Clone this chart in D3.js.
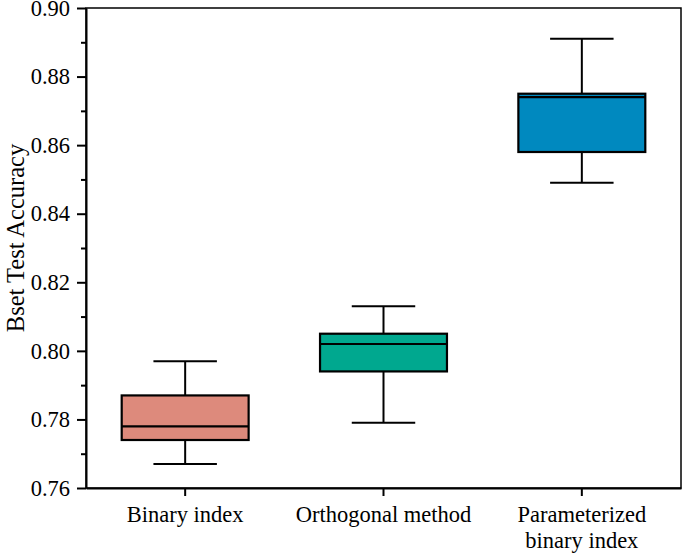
<!DOCTYPE html>
<html>
<head>
<meta charset="utf-8">
<script src="https://cdn.jsdelivr.net/npm/d3@7"></script>
<style>
  body { margin: 0; background: #fff; }
  text { font-family: "Liberation Serif", "Times New Roman", serif; fill: #000; }
</style>
</head>
<body>
<div id="chart"></div>
<script>
  // categories and box statistics
  const categories = ['Binary index', 'Orthogonal method', 'Parameterized binary index'];
  const whiskerLow = [0.767, 0.779, 0.849];
  const q1 = [0.774, 0.794, 0.858];
  const median = [0.778, 0.802, 0.874];
  const q3 = [0.787, 0.805, 0.875];
  const whiskerHigh = [0.797, 0.813, 0.891];
  const colors = ['#DD8A7C', '#00A88F', '#0089BF'];
  const yTicks = [0.76, 0.78, 0.80, 0.82, 0.84, 0.86, 0.88, 0.90];

  const data = categories.map((c, i) => ({
    name: c, lo: whiskerLow[i], q1: q1[i], med: median[i], q3: q3[i], hi: whiskerHigh[i], color: colors[i]
  }));

  const width = 685, height = 555;
  const margin = { top: 8, right: 4, bottom: 67, left: 86 };

  const svg = d3.select('#chart')
    .append('svg')
    .attr('width', width)
    .attr('height', height);

  const x = d3.scaleBand()
    .domain(categories)
    .range([margin.left, width - margin.right]);

  const y = d3.scaleLinear()
    .domain([0.76, 0.90])
    .range([height - margin.bottom, margin.top]);

  const boxW = x.bandwidth() * 0.64;
  const capW = boxW / 2;

  // frame
  svg.append('rect')
    .attr('x', margin.left)
    .attr('y', margin.top)
    .attr('width', width - margin.left - margin.right)
    .attr('height', height - margin.top - margin.bottom)
    .attr('fill', 'none')
    .attr('stroke', '#000')
    .attr('stroke-width', 1.5);

  const g = svg.selectAll('g.box')
    .data(data)
    .enter()
    .append('g')
    .attr('class', 'box');

  const cx = d => x(d.name) + x.bandwidth() / 2;

  // whisker stems
  g.append('line')
    .attr('x1', cx).attr('x2', cx)
    .attr('y1', d => y(d.hi)).attr('y2', d => y(d.q3))
    .attr('stroke', '#000').attr('stroke-width', 2);
  g.append('line')
    .attr('x1', cx).attr('x2', cx)
    .attr('y1', d => y(d.q1)).attr('y2', d => y(d.lo))
    .attr('stroke', '#000').attr('stroke-width', 2);

  // caps
  g.append('line')
    .attr('x1', d => cx(d) - capW / 2).attr('x2', d => cx(d) + capW / 2)
    .attr('y1', d => y(d.hi)).attr('y2', d => y(d.hi))
    .attr('stroke', '#000').attr('stroke-width', 2);
  g.append('line')
    .attr('x1', d => cx(d) - capW / 2).attr('x2', d => cx(d) + capW / 2)
    .attr('y1', d => y(d.lo)).attr('y2', d => y(d.lo))
    .attr('stroke', '#000').attr('stroke-width', 2);

  // boxes
  g.append('rect')
    .attr('x', d => cx(d) - boxW / 2)
    .attr('y', d => y(d.q3))
    .attr('width', boxW)
    .attr('height', d => y(d.q1) - y(d.q3))
    .attr('fill', d => d.color)
    .attr('stroke', '#000')
    .attr('stroke-width', 2.2);

  // medians
  g.append('line')
    .attr('x1', d => cx(d) - boxW / 2).attr('x2', d => cx(d) + boxW / 2)
    .attr('y1', d => y(d.med)).attr('y2', d => y(d.med))
    .attr('stroke', '#000').attr('stroke-width', 2.2);

  // y axis with minor ticks
  const minor = d3.range(0.77, 0.90, 0.02);
  svg.append('g')
    .attr('transform', `translate(${margin.left},0)`)
    .call(d3.axisLeft(y).tickValues(minor).tickSize(5).tickFormat(''))
    .call(a => a.select('.domain').remove())
    .call(a => a.selectAll('line').attr('stroke-width', 2));

  const yAxis = svg.append('g')
    .attr('transform', `translate(${margin.left},0)`)
    .call(d3.axisLeft(y).tickValues(yTicks).tickSize(9).tickPadding(7).tickSizeOuter(0).tickFormat(d3.format('.2f')))
    .attr('font-family', 'Liberation Serif')
    .attr('font-size', 22.5);
  yAxis.select('.domain').attr('stroke-width', 2);
  yAxis.selectAll('line').attr('stroke-width', 2);
  yAxis.selectAll('text')
    .attr('font-family', 'Liberation Serif')
    .style('font-family', 'Liberation Serif');

  // x axis
  const xAxis = svg.append('g')
    .attr('transform', `translate(0,${height - margin.bottom})`)
    .call(d3.axisBottom(x).tickSize(8).tickSizeOuter(0).tickFormat(''));
  xAxis.select('.domain').attr('stroke-width', 2);
  xAxis.selectAll('line').attr('stroke-width', 2);

  const xLabels = [['Binary index'], ['Orthogonal method'], ['Parameterized', 'binary index']];
  svg.selectAll('text.xlab')
    .data(categories)
    .enter()
    .append('text')
    .attr('class', 'xlab')
    .attr('text-anchor', 'middle')
    .attr('font-size', '22.5px')
    .attr('x', d => x(d) + x.bandwidth() / 2)
    .attr('y', 522)
    .each(function (d, i) {
      const t = d3.select(this);
      xLabels[i].forEach((line, j) => {
        t.append('tspan')
          .attr('x', x(d) + x.bandwidth() / 2)
          .attr('dy', j === 0 ? 0 : 26)
          .text(line);
      });
    });

  // y axis title
  svg.append('text')
    .attr('transform', 'translate(24,238) rotate(-90)')
    .attr('text-anchor', 'middle')
    .attr('font-size', '24.5px')
    .text('Bset Test Accuracy');
</script>
</body>
</html>
